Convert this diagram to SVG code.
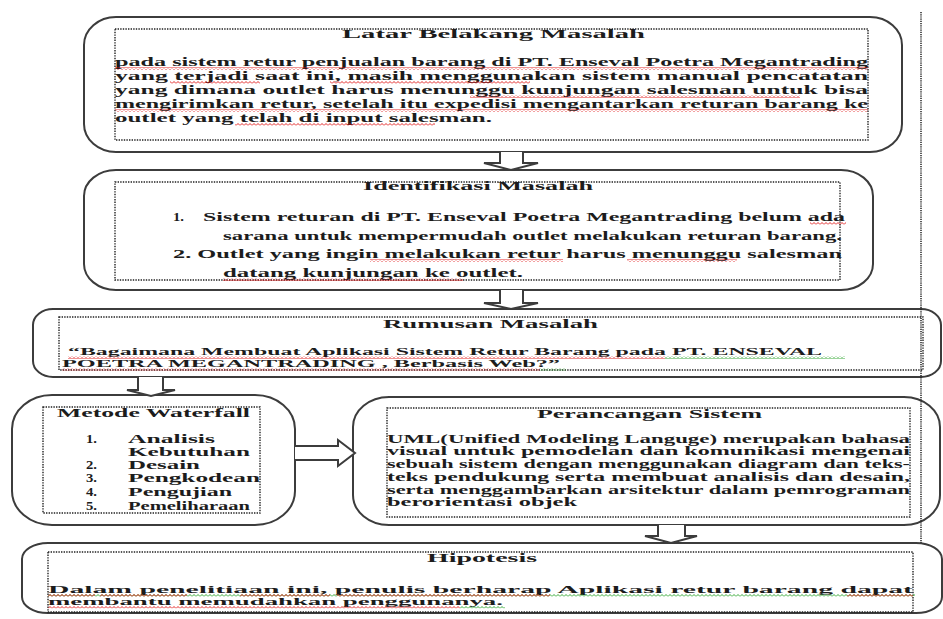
<svg xmlns="http://www.w3.org/2000/svg" width="943" height="619" viewBox="0 0 943 619">
<style>
.box{fill:#fff;stroke:#3c3c3c;stroke-width:2}
.dot{fill:none;stroke:#222;stroke-width:1.4;stroke-dasharray:1.4 1.2}
.t{font-family:"Liberation Serif","Times New Roman",serif;font-weight:bold;fill:#1c1c1c}
.h{font-size:11.5px}
.b{font-size:11.5px}
.s{font-size:10.5px}
.arr{fill:#fff;stroke:#3c3c3c;stroke-width:2;stroke-linejoin:miter}
.vl{stroke:#222;stroke-width:1.5;stroke-dasharray:1.2 1}
.wr{fill:url(#wavyRed)}
.wg{fill:url(#wavyGreen)}
</style>
<defs>
<pattern id="wavyRed" width="4" height="3" patternUnits="userSpaceOnUse">
<path d="M0 2.5 L2 0.5 L4 2.5" fill="none" stroke="#e01010" stroke-width="0.9"/>
</pattern>
<pattern id="wavyGreen" width="4" height="3" patternUnits="userSpaceOnUse">
<path d="M0 2.5 L2 0.5 L4 2.5" fill="none" stroke="#20a020" stroke-width="0.9"/>
</pattern>
</defs>
<rect width="943" height="619" fill="#fff"/>

<g id="latar">
<rect class="box" x="84" y="17" width="818" height="135" rx="32" ry="28"/>
<rect class="dot" x="115" y="29" width="753" height="111"/>
<text class="t h" x="342" y="38" textLength="303" lengthAdjust="spacingAndGlyphs">Latar Belakang Masalah</text>
<text class="t b" x="115" y="66" textLength="753" lengthAdjust="spacingAndGlyphs">pada sistem retur penjualan barang di PT. Enseval Poetra Megantrading</text>
<text class="t b" x="115" y="80" textLength="753" lengthAdjust="spacingAndGlyphs">yang terjadi saat ini, masih menggunakan sistem manual pencatatan</text>
<text class="t b" x="115" y="94" textLength="753" lengthAdjust="spacingAndGlyphs">yang dimana outlet harus menunggu kunjungan salesman untuk bisa</text>
<text class="t b" x="115" y="108" textLength="753" lengthAdjust="spacingAndGlyphs">mengirimkan retur, setelah itu expedisi mengantarkan returan barang ke</text>
<text class="t b" x="115" y="122" textLength="377" lengthAdjust="spacingAndGlyphs">outlet yang telah di input salesman.</text>
<rect class="wr" x="115" y="67" width="753" height="3"/>
<rect class="wr" x="170" y="81" width="90" height="3"/>
<rect class="wr" x="330" y="81" width="200" height="3"/>
<rect class="wr" x="470" y="95" width="330" height="3"/>
<rect class="wr" x="115" y="109" width="753" height="3"/>
<rect class="wr" x="235" y="123" width="200" height="3"/>
</g>

<g id="identifikasi">
<rect class="box" x="84" y="170" width="789" height="120" rx="32" ry="26"/>
<rect class="dot" x="115" y="182" width="725" height="98"/>
<text class="t h" x="363" y="190" textLength="230" lengthAdjust="spacingAndGlyphs">Identifikasi Masalah</text>
<text class="t b" x="173" y="221" textLength="11" lengthAdjust="spacingAndGlyphs">1.</text>
<text class="t b" x="203" y="221" textLength="642" lengthAdjust="spacingAndGlyphs">Sistem returan di PT. Enseval Poetra Megantrading  belum ada</text>
<text class="t b" x="223" y="240" textLength="619" lengthAdjust="spacingAndGlyphs">sarana    untuk mempermudah outlet melakukan returan barang.</text>
<text class="t b" x="173" y="258" textLength="669" lengthAdjust="spacingAndGlyphs">2. Outlet yang ingin melakukan retur harus menunggu salesman</text>
<text class="t b" x="223" y="277" textLength="300" lengthAdjust="spacingAndGlyphs">datang kunjungan ke outlet.</text>
<rect class="wr" x="810" y="222" width="36" height="3"/>
<rect class="wr" x="370" y="259" width="193" height="3"/>
<rect class="wr" x="627" y="259" width="110" height="3"/>
<rect class="wr" x="223" y="278" width="240" height="3"/>
</g>

<g id="rumusan">
<rect class="box" x="33" y="309" width="908" height="68" rx="20" ry="16"/>
<rect class="dot" x="59" y="317" width="864" height="53"/>
<text class="t h" x="383" y="328" textLength="215" lengthAdjust="spacingAndGlyphs">Rumusan Masalah</text>
<text class="t s" x="68" y="355" textLength="754" lengthAdjust="spacingAndGlyphs">“Bagaimana Membuat Aplikasi Sistem Retur Barang pada PT. ENSEVAL</text>
<text class="t s" x="62" y="367" textLength="498" lengthAdjust="spacingAndGlyphs">POETRA MEGANTRADING , Berbasis Web?”</text>
<rect class="wr" x="68" y="356" width="597" height="3"/>
<rect class="wg" x="665" y="356" width="180" height="3"/>
<rect class="wr" x="62" y="368" width="478" height="2.5"/>
<rect class="wg" x="540" y="368" width="26" height="2.5"/>
</g>

<g id="waterfall">
<rect class="box" x="12" y="395" width="283" height="130" rx="40" ry="34"/>
<rect class="dot" x="43" y="407" width="217" height="106"/>
<text class="t h" x="57" y="417" textLength="193" lengthAdjust="spacingAndGlyphs">Metode Waterfall</text>
<text class="t b" x="86" y="443" textLength="11" lengthAdjust="spacingAndGlyphs">1.</text>
<text class="t b" x="128" y="443" textLength="87" lengthAdjust="spacingAndGlyphs">Analisis</text>
<text class="t b" x="128" y="456" textLength="122" lengthAdjust="spacingAndGlyphs">Kebutuhan</text>
<text class="t b" x="86" y="469" textLength="11" lengthAdjust="spacingAndGlyphs">2.</text>
<text class="t b" x="128" y="469" textLength="72" lengthAdjust="spacingAndGlyphs">Desain</text>
<text class="t b" x="86" y="482" textLength="11" lengthAdjust="spacingAndGlyphs">3.</text>
<text class="t b" x="128" y="482" textLength="132" lengthAdjust="spacingAndGlyphs">Pengkodean</text>
<text class="t b" x="86" y="496" textLength="11" lengthAdjust="spacingAndGlyphs">4.</text>
<text class="t b" x="128" y="496" textLength="104" lengthAdjust="spacingAndGlyphs">Pengujian</text>
<text class="t b" x="86" y="510" textLength="11" lengthAdjust="spacingAndGlyphs">5.</text>
<text class="t b" x="128" y="510" textLength="122" lengthAdjust="spacingAndGlyphs">Pemeliharaan</text>
</g>

<g id="perancangan">
<rect class="box" x="353" y="397" width="587" height="128" rx="36" ry="30"/>
<rect class="dot" x="387" y="408" width="523" height="109"/>
<text class="t h" x="537" y="418" textLength="225" lengthAdjust="spacingAndGlyphs">Perancangan Sistem</text>
<text class="t b" x="387" y="443" textLength="523" lengthAdjust="spacingAndGlyphs">UML(Unified Modeling Languge) merupakan bahasa</text>
<text class="t b" x="387" y="455" textLength="523" lengthAdjust="spacingAndGlyphs">visual untuk pemodelan dan komunikasi mengenai</text>
<text class="t b" x="387" y="468" textLength="523" lengthAdjust="spacingAndGlyphs">sebuah sistem dengan menggunakan diagram dan teks-</text>
<text class="t b" x="387" y="481" textLength="523" lengthAdjust="spacingAndGlyphs">teks pendukung serta membuat analisis dan desain,</text>
<text class="t b" x="387" y="494" textLength="523" lengthAdjust="spacingAndGlyphs">serta menggambarkan arsitektur dalam pemrograman</text>
<text class="t b" x="387" y="506" textLength="190" lengthAdjust="spacingAndGlyphs">berorientasi objek</text>
</g>

<g id="hipotesis">
<rect class="box" x="22" y="543" width="920" height="70" rx="26" ry="16"/>
<rect class="dot" x="48" y="552" width="865" height="60"/>
<text class="t h" x="427" y="562" textLength="110" lengthAdjust="spacingAndGlyphs">Hipotesis</text>
<text class="t s" x="48" y="593" textLength="865" lengthAdjust="spacingAndGlyphs">Dalam   penelitiaan   ini,   penulis   berharap   Aplikasi   retur   barang   dapat</text>
<text class="t s" x="48" y="605" textLength="455" lengthAdjust="spacingAndGlyphs">membantu memudahkan penggunanya.</text>
<rect class="wg" x="48" y="594" width="867" height="3"/>
<rect class="wr" x="48" y="594" width="47" height="3"/>
<rect class="wr" x="100" y="594" width="87" height="3"/>
<rect class="wr" x="240" y="594" width="90" height="3"/>
<rect class="wr" x="337" y="594" width="213" height="3"/>
<rect class="wr" x="847" y="594" width="66" height="3"/>
<rect class="wr" x="48" y="606" width="412" height="2.5"/>
<rect class="wg" x="460" y="606" width="45" height="2.5"/>
</g>

<g id="connectors">
<polyline class="arr" points="500,152 500,163 484,163 511,170 538,163 523,163 523,152"/>
<polyline class="arr" points="500,290 500,303 484,303 511,309 538,303 523,303 523,290"/>
<polyline class="arr" points="138,377 138,390 127,390 151,396 175,390 163,390 163,377"/>
<polyline class="arr" points="658,525 658,536 645,536 671,543 697,536 685,536 685,525"/>
<polyline class="arr" points="295,446 338,446 338,440 355,453 338,466 338,460 295,460"/>
<line class="vl" x1="921" y1="12" x2="921" y2="543"/>
</g>
</svg>
